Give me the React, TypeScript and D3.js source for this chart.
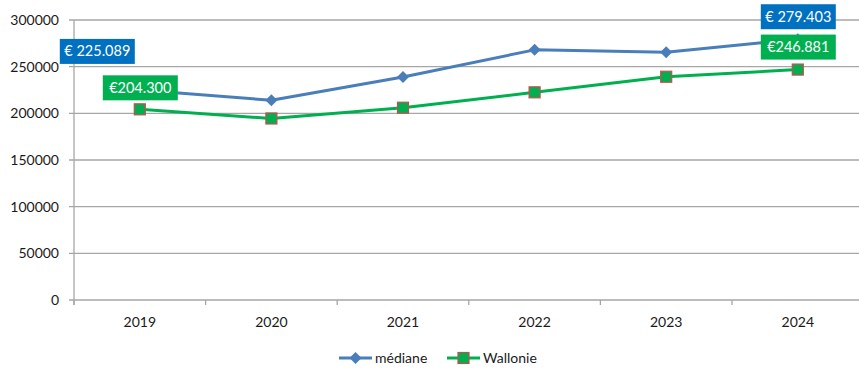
import React, { useEffect } from "react";
import * as d3 from "d3";

const years = ["2019", "2020", "2021", "2022", "2023", "2024"];
const mediane = [225089, 214000, 239000, 268000, 265500, 279403];
const wallonie = [204300, 194500, 206000, 222500, 239200, 246881];
const yTicks = [0, 50000, 100000, 150000, 200000, 250000, 300000];
const seriesNames = ["médiane", "Wallonie"];
const labels = [
  { series: 0, index: 0, text: "€ 225.089" },
  { series: 1, index: 0, text: "€204.300" },
  { series: 0, index: 5, text: "€ 279.403" },
  { series: 1, index: 5, text: "€246.881" },
];

const W = 859;
const H = 371;
const blue = "#4A7EBB";
const green = "#00B050";
const font = "Lato, 'Open Sans', sans-serif";

export default function App() {
  useEffect(() => {
    document.body.style.margin = "0";
  }, []);

  const x = d3.scaleBand<string>().domain(years).range([74, 863.6]);
  const y = d3.scaleLinear().domain([0, 300000]).range([300, 20]);
  const cx = (i: number) => (x(years[i]) as number) + x.bandwidth() / 2;

  const line = d3
    .line<number>()
    .x((_, i) => cx(i))
    .y((d) => y(d));

  const series = [mediane, wallonie];
  const labelOffsets: Record<string, [number, number]> = {
    "0-0": [-80, -51],
    "1-0": [-37, -34],
    "0-5": [-37, -35],
    "1-5": [-37, -35],
  };
  const labelColors = ["#0070C0", "#00B050"];

  const r = 6;
  const diamond = `M0,${-r}L${r},0L0,${r}L${-r},0Z`;

  return (
    <svg width={W} height={H} style={{ display: "block" }}>
      <rect width={W} height={H} fill="#fff" />
      {yTicks.map((t) => (
        <line key={t} x1={69} x2={W} y1={y(t)} y2={y(t)} stroke="#A6A6A6" strokeWidth={1.3} />
      ))}
      <line x1={74} x2={74} y1={20} y2={305} stroke="#A6A6A6" strokeWidth={1.3} />
      {years.map((yr) => (
        <line
          key={yr}
          x1={x(yr) as number}
          x2={x(yr) as number}
          y1={300}
          y2={305}
          stroke="#A6A6A6"
          strokeWidth={1.3}
        />
      ))}
      {yTicks.map((t) => (
        <text
          key={t}
          x={59}
          y={y(t)}
          dy="0.35em"
          textAnchor="end"
          fontFamily={font}
          fontSize={14}
          fill="#1a1a1a"
        >
          {t}
        </text>
      ))}
      {years.map((yr, i) => (
        <text
          key={yr}
          x={cx(i)}
          y={322}
          dy="0.35em"
          textAnchor="middle"
          fontFamily={font}
          fontSize={14}
          fill="#1a1a1a"
        >
          {yr}
        </text>
      ))}
      <path d={line(mediane) || ""} fill="none" stroke={blue} strokeWidth={3} strokeLinejoin="round" />
      <path d={line(wallonie) || ""} fill="none" stroke={green} strokeWidth={3} strokeLinejoin="round" />
      {mediane.map((v, i) => (
        <path key={"m" + i} d={diamond} transform={`translate(${cx(i)},${y(v)})`} fill={blue} />
      ))}
      {wallonie.map((v, i) => (
        <rect
          key={"w" + i}
          x={cx(i) - 5.5}
          y={y(v) - 5.5}
          width={11}
          height={11}
          fill={green}
          stroke="#C0504D"
          strokeWidth={1.2}
        />
      ))}
      {labels.map((l) => {
        const v = series[l.series][l.index];
        const [ox, oy] = labelOffsets[`${l.series}-${l.index}`];
        const bx = cx(l.index) + ox;
        const by = y(v) + oy;
        return (
          <g key={l.text}>
            <rect x={bx} y={by} width={75} height={25} fill={labelColors[l.series]} />
            <text
              x={bx + 37.5}
              y={by + 12.5}
              dy="0.35em"
              textAnchor="middle"
              fontFamily={font}
              fontSize={14.5}
              fill="#fff"
            >
              {l.text}
            </text>
          </g>
        );
      })}
      <g>
        <line x1={339} x2={372} y1={358} y2={358} stroke={blue} strokeWidth={3} />
        <path d={diamond} transform="translate(355.5,358)" fill={blue} />
        <text x={375} y={358} dy="0.35em" fontFamily={font} fontSize={14} fill="#1a1a1a">
          {seriesNames[0]}
        </text>
        <line x1={447} x2={480} y1={358} y2={358} stroke={green} strokeWidth={3} />
        <rect x={458} y={352.5} width={11} height={11} fill={green} stroke="#C0504D" strokeWidth={1.2} />
        <text x={483} y={358} dy="0.35em" fontFamily={font} fontSize={14} fill="#1a1a1a">
          {seriesNames[1]}
        </text>
      </g>
    </svg>
  );
}
